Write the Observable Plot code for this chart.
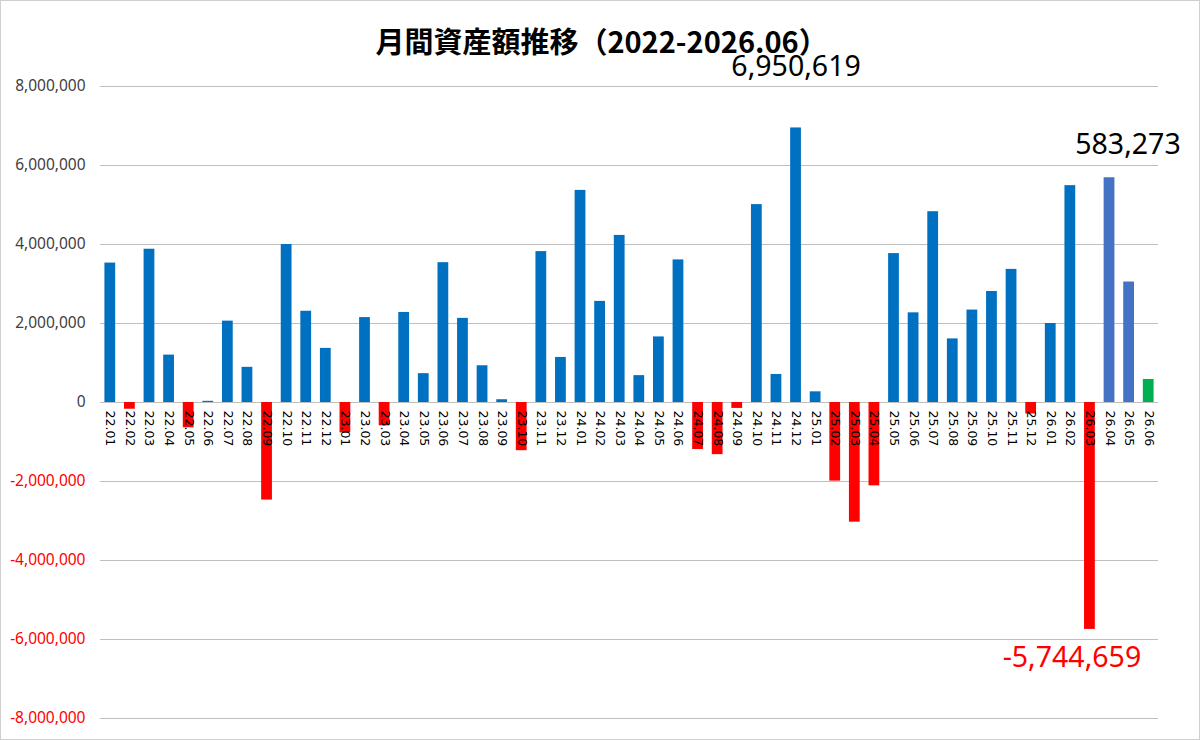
<!DOCTYPE html>
<html>
<head>
<meta charset="utf-8">
<script src="https://cdn.jsdelivr.net/npm/d3@7"></script>
<script src="https://cdn.jsdelivr.net/npm/@observablehq/plot@0.6"></script>
<style>
  html, body { margin: 0; padding: 0; background: #fff; }
  #wrap { position: relative; width: 1200px; height: 740px; }
  #border { position: absolute; left: 0; top: 0; width: 1198px; height: 738px; border: 1px solid #d0d0d0; pointer-events: none; }
</style>
</head>
<body>
<div id="wrap"><div id="chart"></div><div id="border"></div></div>
<script>
const months = [
  "22.01","22.02","22.03","22.04","22.05","22.06","22.07","22.08","22.09","22.10","22.11","22.12",
  "23.01","23.02","23.03","23.04","23.05","23.06","23.07","23.08","23.09","23.10","23.11","23.12",
  "24.01","24.02","24.03","24.04","24.05","24.06","24.07","24.08","24.09","24.10","24.11","24.12",
  "25.01","25.02","25.03","25.04","25.05","25.06","25.07","25.08","25.09","25.10","25.11","25.12",
  "26.01","26.02","26.03","26.04","26.05","26.06"
];
const values = [
  3530000, -170000, 3880000, 1200000, -640000, 30000, 2060000, 890000, -2470000, 4000000, 2310000, 1370000,
  -770000, 2150000, -590000, 2280000, 730000, 3540000, 2130000, 930000, 70000, -1220000, 3820000, 1140000,
  5370000, 2560000, 4230000, 680000, 1660000, 3610000, -1190000, -1320000, -150000, 5010000, 710000, 6950619,
  270000, -1990000, -3030000, -2110000, 3770000, 2270000, 4830000, 1610000, 2340000, 2810000, 3370000, -290000,
  2000000, 5490000, -5744659, 5690000, 3050000, 583273
];
const yTicks = [-8000000, -6000000, -4000000, -2000000, 0, 2000000, 4000000, 6000000, 8000000];
const titleText = "月間資産額推移（2022-2026.06）";
const maxMonth = "24.12";
const minMonth = "26.03";
const currentMonth = "26.06";
const projectedMonths = ["26.04", "26.05"];

const data = months.map((m, i) => ({month: m, value: values[i]}));
const fmt0 = d3.format(",");
const fmt = v => fmt0(v).replace("\u2212", "-");
const colorOf = d => d.month === currentMonth ? "#00B050"
  : projectedMonths.includes(d.month) ? "#4472C4"
  : d.value < 0 ? "#FF0000" : "#0070C0";

const maxD = data.filter(d => d.month === maxMonth);
const minD = data.filter(d => d.month === minMonth);
const curD = data.filter(d => d.month === currentMonth);

const chart = Plot.plot({
  width: 1200,
  height: 740,
  marginTop: 86,
  marginBottom: 22,
  marginLeft: 100,
  marginRight: 42,
  style: {background: "#fff", fontFamily: "'Noto Sans', sans-serif"},
  x: {domain: months, paddingInner: 0.45, paddingOuter: 0.225, axis: null},
  y: {domain: [-8000000, 8000000], axis: null},
  marks: [
    Plot.ruleY(yTicks, {stroke: "#bfbfbf", strokeWidth: 1}),
    Plot.barY(data, {x: "month", y: "value", fill: colorOf}),
    Plot.text(yTicks, {
      y: d => d, frameAnchor: "left", textAnchor: "end", dx: -15,
      text: d => fmt(d), fill: d => d < 0 ? "#FF0000" : "#404040",
      fontSize: 15.5, fontFamily: "'Noto Sans', sans-serif"
    }),
    Plot.text(data, {
      x: "month", y: () => 0, text: "month", rotate: 90, textAnchor: "start",
      lineAnchor: "middle", dy: 8, fontSize: 12.5, fill: "#000",
      fontFamily: "'DejaVu Sans', sans-serif"
    }),
    Plot.text(maxD, {
      x: "month", y: "value", text: d => fmt(d.value), dy: -61,
      fontSize: 28.5, fill: "#000", fontFamily: "'Noto Sans', sans-serif"
    }),
    Plot.text(curD, {
      x: "month", frameAnchor: "top", text: d => fmt(d.value), dy: 47, dx: 32,
      textAnchor: "end", fontSize: 28.5, fill: "#000", fontFamily: "'Noto Sans', sans-serif"
    }),
    Plot.text(minD, {
      x: "month", y: "value", text: d => fmt(d.value), dy: 28, dx: -18,
      fontSize: 28.5, fill: "#FF0000", fontFamily: "'Noto Sans', sans-serif"
    }),
    Plot.text([titleText], {
      frameAnchor: "top", text: d => d, dy: -54, dx: -28,
      fontSize: 29, fontWeight: "bold", fill: "#000",
      fontFamily: "'Noto Sans CJK JP', 'Noto Sans', sans-serif"
    })
  ]
});
document.getElementById("chart").appendChild(chart);
</script>
</body>
</html>
